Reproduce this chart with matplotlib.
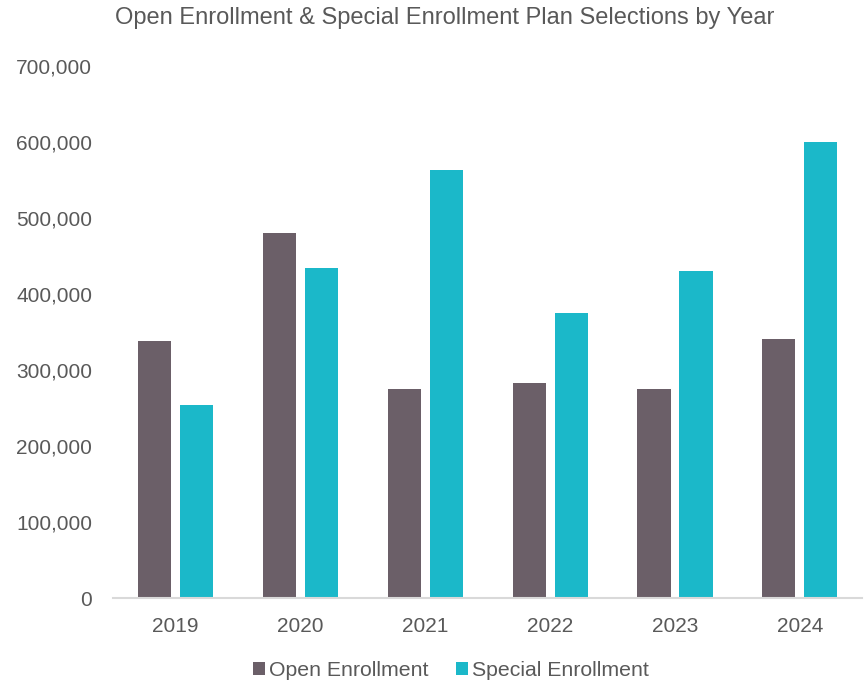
import numpy as np
import matplotlib.pyplot as plt
from matplotlib.ticker import FuncFormatter

years = ['2019', '2020', '2021', '2022', '2023', '2024']
open_enrollment = [338000, 480000, 275000, 283000, 275000, 341000]
special_enrollment = [254000, 434000, 563000, 375000, 430000, 600000]

plt.rcParams['font.family'] = ['Liberation Sans', 'DejaVu Sans']
text_color = '#595959'

fig = plt.figure(figsize=(8.64, 6.84), dpi=100)
ax = fig.add_axes([0.131, 0.1257, 0.867, 0.7778])

x = np.arange(len(years))
w = 0.265
ax.bar(x - 0.168, open_enrollment, w, color='#6B5F68', label='Open Enrollment')
ax.bar(x + 0.168, special_enrollment, w, color='#1BB8C9', label='Special Enrollment')

ax.set_xlim(-0.5, len(years) - 0.5)
ax.set_ylim(0, 700000)
ax.set_yticks(range(0, 700001, 100000))
ax.yaxis.set_major_formatter(FuncFormatter(lambda v, p: f'{int(v):,}'))
ax.set_xticks(x)
ax.set_xticklabels(years)

for s in ['top', 'right', 'left']:
    ax.spines[s].set_visible(False)
ax.spines['bottom'].set_color('#D9D9D9')
ax.spines['bottom'].set_linewidth(1.5)
ax.tick_params(axis='both', length=0, labelsize=15, labelcolor=text_color)
ax.tick_params(axis='x', pad=14)
ax.tick_params(axis='y', pad=15)

fig.text(0.515, 0.974, 'Open Enrollment & Special Enrollment Plan Selections by Year',
         ha='center', va='center', fontsize=17, color=text_color)

ax.legend(loc='center', bbox_to_anchor=(0.451, -0.137), ncol=2, frameon=False,
          fontsize=15.3, labelcolor=text_color, handlelength=0.55, handleheight=0.55,
          handletextpad=0.2, columnspacing=1.3)

fig.savefig('out.png', dpi=100)
